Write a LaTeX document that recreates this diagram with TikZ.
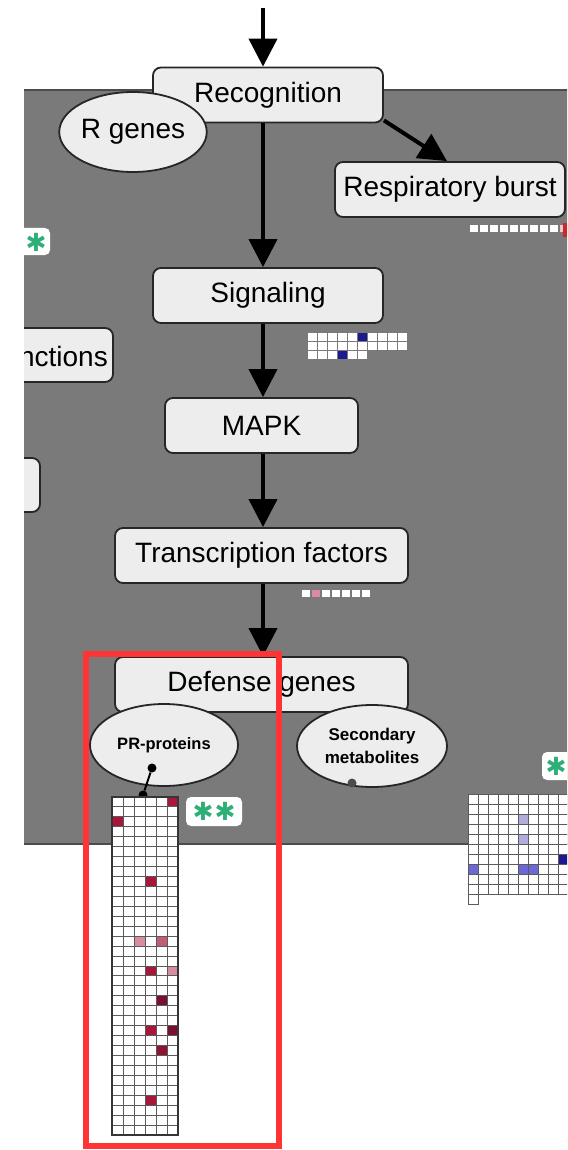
\documentclass[tikz,border=0pt]{standalone}
\usepackage{fontspec}
\setmainfont{Liberation Sans}
\newfontfamily\symfont{DejaVu Sans}
\usetikzlibrary{shapes.geometric,arrows.meta,calc}
\definecolor{bggray}{HTML}{7A7A7A}
\definecolor{boxfill}{HTML}{EDEDED}
\definecolor{astgreen}{HTML}{2EAF78}
\definecolor{hred}{HTML}{A8173A}
\definecolor{hdark}{HTML}{7A1030}
\definecolor{hpink}{HTML}{D98C9F}
\definecolor{hnavy}{HTML}{1B1B8F}
\definecolor{hlav}{HTML}{B0ADDD}
\definecolor{hblue}{HTML}{6E68D6}
\definecolor{framered}{HTML}{FF3434}
\definecolor{gridline}{HTML}{5A5A5A}
\begin{document}
\begin{tikzpicture}[x=1pt,y=-1pt,
  procbox/.style={draw=black!85, line width=1.8pt, rounded corners=8pt, fill=boxfill,
    minimum height=55pt, inner sep=0pt, font=\fontsize{28}{30}\selectfont},
  oval/.style={ellipse, draw=black!85, line width=1.8pt, fill=boxfill, inner sep=0pt},
  arr/.style={line width=4pt, -{Triangle[length=28pt,width=28pt]}},
  astbox/.style={fill=white, rounded corners=5pt},
  ast/.style={text=astgreen, font=\symfont\fontsize{25}{25}\selectfont, inner sep=0pt},
  dot/.style={circle, fill=black, minimum size=9pt, inner sep=0pt}
]
\useasboundingbox (0,0) rectangle (567,1150);
\clip (0,0) rectangle (567,1150);

% background region
\fill[bggray] (24,90) rectangle (580,844);
\draw[black!70, line width=1.5pt] (24,90) -- (580,90);
\draw[black!70, line width=1.5pt] (24,844) -- (580,844);

% clipped boxes at left edge
\begin{scope}
  \clip (24,0) rectangle (567,1150);
  \draw[procbox] (-60,328) rectangle (113,382);
  \node[anchor=east, font=\fontsize{28}{30}\selectfont, inner sep=0pt] (func) at (108,356) {nctions};
  \draw[procbox] (-60,458) rectangle (40,512);
  \fill[astbox] (10,228) rectangle (50,255);
  \node[ast] (astL) at (36,242) {✱};
\end{scope}

% main pathway boxes
\node[procbox, minimum width=230pt] (rec) at (268,95) {Recognition};
\node[procbox, minimum width=230pt] (resp) at (450,189.5) {Respiratory burst};
\node[procbox, minimum width=230pt] (sig) at (268,295.5) {Signaling};
\node[procbox, minimum width=193pt] (mapk) at (261.5,425.5) {MAPK};
\node[procbox, minimum width=293pt] (tf) at (261.5,555.5) {Transcription factors};
\node[procbox, minimum width=293pt] (def) at (261.5,684.5) {Defense genes};

% arrows
\coordinate (topin) at (263,8);
\draw[arr] (topin) -- (topin |- rec.north);
\draw[arr] (topin |- rec.south) -- (topin |- sig.north);
\draw[arr] (topin |- sig.south) -- (topin |- mapk.north);
\draw[arr] (topin |- mapk.south) -- (topin |- tf.north);
\draw[arr] (topin |- tf.south) -- (topin |- def.north);
\draw[arr] ([yshift=3pt]rec.south east) -- ([xshift=-3pt]resp.north);

% ellipses
\node[oval, minimum width=137pt, minimum height=80pt, font=\fontsize{28}{30}\selectfont] (rgenes) at (133,132) {\raisebox{4pt}{R genes}};
\node[oval, minimum width=148pt, minimum height=82pt, font=\bfseries\fontsize{16.5}{18}\selectfont] (pr) at (164,745) {PR-proteins};
\node[oval, minimum width=150pt, minimum height=82pt, align=center, font=\bfseries\fontsize{17}{23}\selectfont] (sec) at (372,746) {Secondary\\metabolites};
\fill[black!70] (352,783) circle (4.5pt);

% PR connector
\node[dot] (d1) at (152,768) {};
\node[dot] (d2) at (143,795) {};
\draw[line width=2pt] (d1) -- (d2);

% respiratory burst grid
\foreach \i in {0,...,8} \fill[white] ({470+\i*10},225) rectangle ++(8,7);
\fill[hpink!50!white] (560,225) rectangle ++(3,7);
\fill[framered!80!black] (563,223) rectangle (567,237);

% signaling grid
\foreach \r in {0,1} \foreach \i in {0,...,9}
  \fill[white] ({308+\i*10},{333+\r*9}) rectangle ++(8.5,7.5);
\foreach \i in {0,...,5} \fill[white] ({308+\i*10},{351}) rectangle ++(8.5,7.5);
\fill[hnavy] (358,333) rectangle ++(8.5,7.5);
\fill[hnavy] (338,351) rectangle ++(8.5,7.5);

% TF grid
\foreach \i in {0,...,6} \fill[white] ({302+\i*10},590) rectangle ++(8,7);
\fill[hpink] (312,590) rectangle ++(8,7);

% PR grid
\fill[white] (112,797) rectangle (178,1135);
\foreach \c/\r/\col in {6/1/hred,1/3/hred,4/9/hred,3/15/hpink,5/15/hred!70,4/18/hred,6/18/hpink,5/21/hdark,4/24/hred,6/24/hdark,5/26/hred!85!black,4/31/hred}
  \fill[\col] ({112+(\c-1)*11},{797+(\r-1)*9.94}) rectangle ++(11,9.94);
\foreach \i in {0,...,6} \draw[gridline, line width=0.9pt] ({112+\i*11},797) -- ({112+\i*11},1135);
\foreach \j in {0,...,34} \draw[gridline, line width=0.9pt] (112,{797+\j*9.94}) -- (178,{797+\j*9.94});
\draw[gridline!60!black, line width=1.3pt] (112,797) rectangle (178,1135);

% right grid
\fill[white] (468,794) rectangle (568,894);
\fill[white] (468,894) rectangle (478,904);
\foreach \c/\r/\col in {6/3/hlav,6/5/hlav,1/8/hblue,6/8/hblue,7/8/hblue,10/7/hnavy}
  \fill[\col] ({468+(\c-1)*10},{794+(\r-1)*10}) rectangle ++(10,10);
\foreach \i in {0,...,10} \draw[gridline, line width=0.9pt] ({468+\i*10},794) -- ({468+\i*10},894);
\foreach \j in {0,...,10} \draw[gridline, line width=0.9pt] (468,{794+\j*10}) -- (568,{794+\j*10});
\draw[gridline, line width=0.9pt] (468,894) rectangle (478,904);

% asterisk boxes
\fill[astbox] (186,797) rectangle (242,826);
\node[ast] (ast1) at (203,811.5) {✱};
\node[ast] (ast2) at (225,811.5) {✱};
\fill[astbox] (542,752) rectangle (580,780);
\node[ast] (astR) at (556,766) {✱};

% highlight frame
\draw[framered, line width=6pt] (86,654) rectangle (279,1146);
\end{tikzpicture}
\end{document}
